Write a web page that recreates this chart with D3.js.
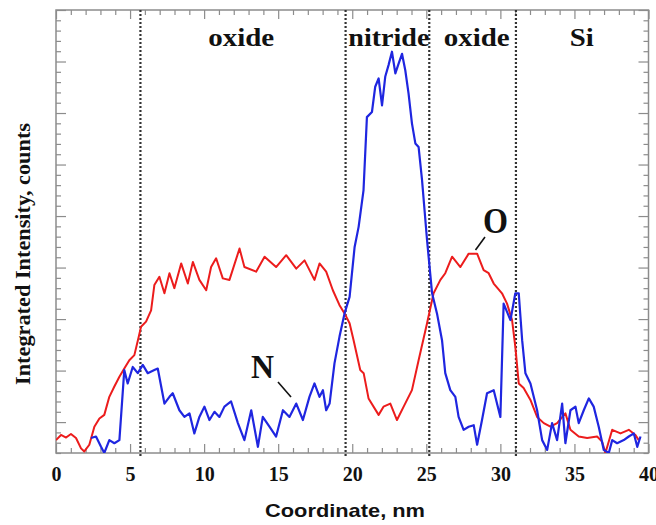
<!DOCTYPE html>
<html>
<head>
<meta charset="utf-8">
<script src="https://cdn.jsdelivr.net/npm/d3@7"></script>
<style>
  body { margin: 0; background: #fff; }
  svg { display: block; }
</style>
</head>
<body>
<script>
(function() {

    const width = 656;
    const height = 525;

    // oxygen profile (red), [coordinate nm, counts]
    const oxygen = [
        [0.00, 25], [0.34, 35], [0.68, 30], [1.01, 37], [1.35, 29], [1.69, 9], [1.91, 3],
        [2.25, 16], [2.59, 51], [2.93, 67], [3.26, 74], [3.60, 109], [3.94, 129], [4.28, 148],
        [4.61, 164], [4.95, 180], [5.29, 190], [5.59, 226], [5.74, 245], [6.08, 255], [6.42, 277],
        [6.64, 326], [6.98, 342], [7.32, 310], [7.66, 349], [7.99, 320], [8.45, 368], [8.90, 329],
        [9.24, 371], [9.68, 336], [10.14, 316], [10.47, 361], [10.81, 378], [11.26, 339],
        [11.71, 336], [12.39, 397], [12.72, 361], [13.51, 352], [14.08, 381], [14.86, 361],
        [15.54, 384], [16.22, 358], [16.78, 374], [17.45, 336], [17.79, 368], [18.24, 352],
        [18.69, 316], [19.14, 287], [19.48, 271], [19.82, 252], [20.09, 219], [20.54, 161],
        [20.77, 155], [21.10, 106], [21.78, 74], [22.11, 90], [22.57, 96], [23.02, 64],
        [23.47, 90], [24.03, 122], [24.48, 180], [25.05, 252], [25.49, 310], [25.95, 336],
        [26.28, 349], [26.74, 381], [27.30, 361], [27.86, 387], [28.43, 387], [28.87, 355],
        [29.21, 349], [29.55, 329], [30.11, 310], [30.45, 290], [30.79, 258], [31.01, 206],
        [31.24, 135], [31.57, 126], [32.03, 103], [32.48, 70], [32.93, 58], [33.38, 51],
        [33.83, 58], [34.39, 77], [34.73, 45], [35.29, 32], [35.86, 29], [36.53, 32],
        [36.87, 22], [37.09, 0], [37.55, 45], [38.11, 38], [38.67, 45], [39.12, 35], [39.34, 25]
    ];

    // nitrogen profile (blue)
    const nitrogen = [
        [2.36, 29], [2.70, 32], [3.04, 12], [3.26, 0], [3.60, 25], [3.94, 19], [4.28, 25],
        [4.61, 161], [4.84, 135], [5.18, 167], [5.52, 155], [5.86, 171], [6.19, 155], [6.64, 161],
        [6.87, 164], [7.32, 96], [7.66, 109], [7.88, 116], [8.33, 83], [8.67, 70], [9.01, 77],
        [9.34, 38], [9.68, 70], [10.02, 90], [10.36, 64], [10.70, 80], [11.03, 70], [11.37, 90],
        [11.82, 100], [12.28, 58], [12.72, 25], [13.18, 83], [13.63, 12], [13.96, 70],
        [14.41, 51], [14.86, 32], [15.32, 83], [15.76, 70], [16.22, 96], [16.67, 64],
        [17.11, 109], [17.45, 135], [17.79, 109], [18.02, 122], [18.24, 83], [18.47, 96],
        [18.80, 174], [19.14, 226], [19.48, 271], [19.82, 303], [20.16, 400], [20.43, 439],
        [20.76, 510], [20.99, 652], [21.33, 662], [21.55, 711], [21.78, 727], [22.01, 675],
        [22.23, 731], [22.45, 753], [22.68, 779], [22.91, 737], [23.13, 756], [23.36, 775],
        [23.58, 743], [23.80, 698], [24.03, 640], [24.26, 601], [24.48, 594], [24.71, 530],
        [25.05, 413], [25.39, 310], [25.72, 271], [26.06, 219], [26.28, 155], [26.62, 122],
        [26.96, 109], [27.18, 70], [27.52, 45], [27.86, 51], [28.20, 54], [28.43, 16],
        [28.76, 64], [29.10, 116], [29.55, 122], [30.00, 70], [30.22, 290], [30.68, 258],
        [31.01, 310], [31.24, 310], [31.47, 219], [31.69, 155], [32.03, 135], [32.48, 83],
        [32.82, 25], [33.16, 6], [33.49, 58], [33.83, 25], [34.17, 96], [34.39, 19],
        [34.73, 83], [35.07, 90], [35.29, 58], [35.63, 83], [35.97, 106], [36.30, 90],
        [36.64, 51], [36.98, 6], [37.32, 0], [37.55, 25], [37.88, 19], [38.33, 25],
        [38.67, 32], [39.01, 38], [39.24, 12], [39.46, 32]
    ];

    // layer boundaries (nm) and layer names
    const boundaries = [5.7, 19.55, 25.2, 31.05];
    const layerNames = ["oxide", "nitride", "oxide", "Si"];
    const layerCenters = [12.5, 22.47, 28.4, 35.5];

    const xTickLabels = [0, 5, 10, 15, 20, 25, 30, 35, 40];

    let svg = d3.select("body").append("svg")
        .attr("width", width)
        .attr("height", height);

    let x = d3.scaleLinear().domain([0, 40]).range([56, 648.5]);
    let y = d3.scaleLinear().domain([0, 860]).range([453, 10]);

    const frameColor = "#8c8c8c";

    // minor ticks
    let xMinor = d3.range(0, 41, 1).filter(d => d % 5 !== 0);
    let yMinor = d3.range(0, 861, 20).filter(d => (d - 60) % 100 !== 0);
    let yMajor = d3.range(60, 861, 100);

    function drawAxis(axis, tx, ty) {
        let g = svg.append("g")
            .attr("transform", "translate(" + tx + "," + ty + ")")
            .call(axis);
        g.select(".domain").remove();
        g.selectAll(".tick line").attr("stroke", frameColor).attr("stroke-width", 1.2);
        return g;
    }

    // x axis bottom, labelled
    let xb = drawAxis(d3.axisBottom(x).tickValues(xTickLabels).tickSize(-9).tickPadding(14), 0, 453);
    xb.selectAll(".tick text")
        .attr("font-family", "'Liberation Serif', 'Times New Roman', serif")
        .attr("font-weight", "bold")
        .attr("font-size", 20)
        .attr("fill", "#111");
    drawAxis(d3.axisBottom(x).tickValues(xMinor).tickSize(-5).tickFormat(""), 0, 453);
    // x axis top
    drawAxis(d3.axisTop(x).tickValues(xTickLabels).tickSize(-9).tickFormat(""), 0, 10);
    drawAxis(d3.axisTop(x).tickValues(xMinor).tickSize(-5).tickFormat(""), 0, 10);
    // y axes (no labels)
    drawAxis(d3.axisLeft(y).tickValues(yMajor).tickSize(-10).tickFormat(""), 56, 0);
    drawAxis(d3.axisLeft(y).tickValues(yMinor).tickSize(-5).tickFormat(""), 56, 0);
    drawAxis(d3.axisRight(y).tickValues(yMajor).tickSize(-10).tickFormat(""), 648.5, 0);
    drawAxis(d3.axisRight(y).tickValues(yMinor).tickSize(-5).tickFormat(""), 648.5, 0);

    // frame
    svg.append("rect")
        .attr("x", x(0)).attr("y", y(860))
        .attr("width", x(40) - x(0)).attr("height", y(0) - y(860))
        .attr("fill", "none")
        .attr("stroke", frameColor)
        .attr("stroke-width", 1.5);

    // clip
    svg.append("clipPath").attr("id", "plotclip")
        .append("rect")
        .attr("x", x(0)).attr("y", y(860))
        .attr("width", x(40) - x(0)).attr("height", y(0) - y(860));

    // layer boundaries
    svg.selectAll(".boundary")
        .data(boundaries)
        .enter()
        .append("line")
        .attr("class", "boundary")
        .attr("x1", d => x(d)).attr("x2", d => x(d))
        .attr("y1", y(860)).attr("y2", y(0) + 3)
        .attr("stroke", "#333")
        .attr("stroke-width", 2.2)
        .attr("stroke-dasharray", "2,2");

    let line = d3.line()
        .x(d => x(d[0]))
        .y(d => y(d[1]));

    let plot = svg.append("g").attr("clip-path", "url(#plotclip)");

    plot.append("path")
        .datum(oxygen)
        .attr("d", line)
        .attr("fill", "none")
        .attr("stroke", "#ec1c1c")
        .attr("stroke-width", 2)
        .attr("stroke-linejoin", "round");

    plot.append("path")
        .datum(nitrogen)
        .attr("d", line)
        .attr("fill", "none")
        .attr("stroke", "#1f26e0")
        .attr("stroke-width", 2.2)
        .attr("stroke-linejoin", "round");

    const serif = "'Liberation Serif', 'Times New Roman', serif";
    const layerWidths = [66, 81, 66, 24];

    // layer names
    svg.selectAll(".layer")
        .data(layerNames)
        .enter()
        .append("text")
        .attr("class", "layer")
        .attr("x", (d, i) => x(layerCenters[i]))
        .attr("y", 46)
        .attr("text-anchor", "middle")
        .attr("font-family", serif)
        .attr("font-weight", "bold")
        .attr("font-size", 25)
        .attr("textLength", (d, i) => layerWidths[i])
        .attr("lengthAdjust", "spacingAndGlyphs")
        .attr("fill", "#111")
        .text(d => d);

    // curve labels with leader lines
    svg.append("text")
        .attr("x", 495.5).attr("y", 233)
        .attr("text-anchor", "middle")
        .attr("font-family", serif).attr("font-weight", "bold")
        .attr("font-size", 36)
        .attr("textLength", 25).attr("lengthAdjust", "spacingAndGlyphs")
        .attr("fill", "#111")
        .text("O");
    svg.append("line")
        .attr("x1", 485).attr("y1", 237).attr("x2", 475.5).attr("y2", 250)
        .attr("stroke", "#111").attr("stroke-width", 1.6);

    svg.append("text")
        .attr("x", 262.5).attr("y", 378)
        .attr("text-anchor", "middle")
        .attr("font-family", serif).attr("font-weight", "bold")
        .attr("font-size", 34)
        .attr("textLength", 23).attr("lengthAdjust", "spacingAndGlyphs")
        .attr("fill", "#111")
        .text("N");
    svg.append("line")
        .attr("x1", 278).attr("y1", 382).attr("x2", 291).attr("y2", 397)
        .attr("stroke", "#111").attr("stroke-width", 1.6);

    // axis titles
    svg.append("text")
        .attr("x", 345).attr("y", 517)
        .attr("text-anchor", "middle")
        .attr("font-family", "'Liberation Sans', Arial, sans-serif")
        .attr("font-weight", "bold")
        .attr("font-size", 19)
        .attr("textLength", 160).attr("lengthAdjust", "spacingAndGlyphs")
        .attr("fill", "#111")
        .text("Coordinate, nm");

    svg.append("text")
        .attr("transform", "translate(30,254) rotate(-90)")
        .attr("text-anchor", "middle")
        .attr("font-family", serif)
        .attr("font-weight", "bold")
        .attr("font-size", 21)
        .attr("textLength", 262).attr("lengthAdjust", "spacingAndGlyphs")
        .attr("fill", "#111")
        .text("Integrated Intensity, counts");

})();
</script>
</body>
</html>
